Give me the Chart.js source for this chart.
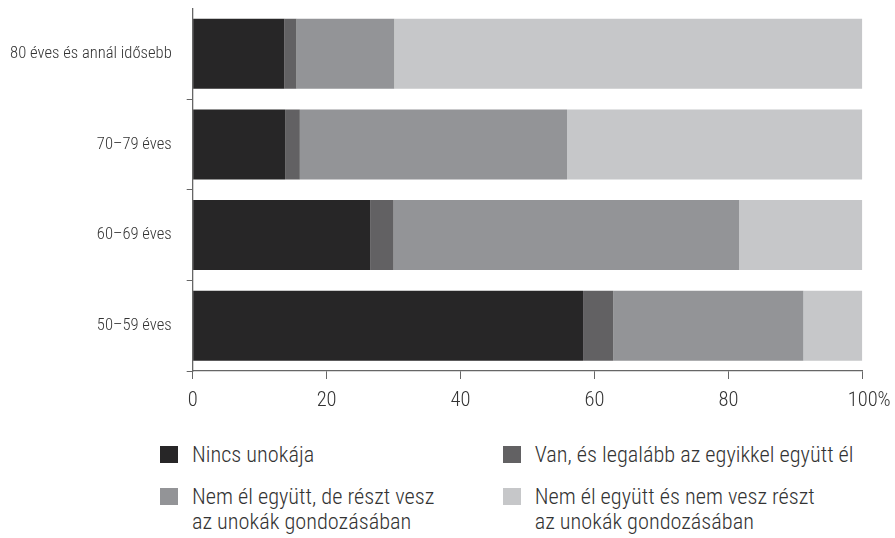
<!DOCTYPE html>
<html>
<head>
<meta charset="utf-8">
<script src="https://cdn.jsdelivr.net/npm/chart.js@4/dist/chart.umd.min.js"></script>
<style>
  html, body { margin: 0; padding: 0; background: #fff; }
  #wrap { position: relative; width: 895px; height: 538px; overflow: hidden; }
  #c { position: absolute; left: 0; top: 0; }
  .lg { position: absolute; display: flex; align-items: flex-start;
        font-size: 22.3px; line-height: 25px; color: #333; white-space: pre-line; }
  .lg .sw { width: 18px; height: 17px; margin-top: 4.3px; margin-right: 14px; flex: none; }
</style>
</head>
<body>
<div id="wrap">
  <canvas id="c" width="895" height="420"></canvas>
  <div id="legend"></div>
</div>
<script>
// ---- data ----
const categories = ['80 éves és annál idősebb', '70–79 éves', '60–69 éves', '50–59 éves'];
const seriesNames = [
  'Nincs unokája',
  'Van, és legalább az egyikkel együtt él',
  'Nem él együtt, de részt vesz\naz unokák gondozásában',
  'Nem él együtt és nem vesz részt\naz unokák gondozásában'
];
const nincsUnokaja   = [13.7, 13.8, 26.5, 58.3];
const egyuttEl       = [1.8, 2.2, 3.5, 4.5];
const resztVesz      = [14.6, 39.9, 51.6, 28.4];
const nemVeszReszt   = [69.9, 44.1, 18.4, 8.8];
const xTickValues = [0, 20, 40, 60, 80, 100];
const xTickLabels = ['0', '20', '40', '60', '80', '100%'];
const colors = ['#272627', '#626163', '#939497', '#c6c7c9'];

const seriesValues = [nincsUnokaja, egyuttEl, resztVesz, nemVeszReszt];

// pick an installed family that has a condensed face
function pickFont() {
  const c = document.createElement('canvas').getContext('2d');
  const s = 'Nincs unokája 80 éves és annál idősebb';
  for (const f of ['Roboto', 'Open Sans', 'DejaVu Sans']) {
    c.font = "300 20px '" + f + "'";
    const w1 = c.measureText(s).width;
    c.font = "300 condensed 20px '" + f + "'";
    const w2 = c.measureText(s).width;
    if (w2 < w1 * 0.92) return f;
  }
  return null;
}
const condFam = pickFont();
const FONT = condFam ? "'" + condFam + "', sans-serif" : "'Liberation Sans', sans-serif";
const WEIGHT = condFam ? '300 condensed' : 'normal';
const SCALE = condFam ? 1 : 0.85;

// the "%" sign hangs to the right of the 100 tick, as in the original
function tickLabel(i) {
  const t = xTickLabels[i];
  return t.endsWith('%') ? '   ' + t : t;
}

new Chart(document.getElementById('c'), {
  type: 'bar',
  data: {
    labels: categories,
    datasets: seriesValues.map((vals, i) => ({
      label: seriesNames[i],
      data: vals,
      backgroundColor: colors[i],
      borderWidth: 0,
      categoryPercentage: 0.772,
      barPercentage: 1
    }))
  },
  options: {
    indexAxis: 'y',
    responsive: false,
    animation: false,
    layout: { padding: { top: 8.5, right: 32.7, bottom: 0, left: 0 } },
    plugins: { legend: { display: false }, tooltip: { enabled: false } },
    scales: {
      x: {
        stacked: true,
        min: 0, max: 100,
        afterBuildTicks: (s) => { s.ticks = xTickValues.map(v => ({ value: v })); },
        afterFit: (s) => { s.height = 49; s.paddingLeft = 0; s.paddingRight = 0; },
        ticks: {
          callback: (v, i) => tickLabel(i),
          color: '#333',
          font: { family: FONT, size: 20.5 * SCALE, weight: WEIGHT },
          padding: 10,
          maxRotation: 0
        },
        grid: { drawOnChartArea: false, drawTicks: true, tickLength: 8, color: '#666', lineWidth: 1 },
        border: { color: '#666', width: 1.3 }
      },
      y: {
        stacked: true,
        afterFit: (s) => { s.width = 192.7; s.paddingTop = 0; s.paddingBottom = 0; },
        ticks: {
          color: '#333',
          font: { family: FONT, size: 16.6 * SCALE, weight: WEIGHT },
          padding: 15
        },
        grid: {
          offset: true,
          drawOnChartArea: false,
          drawTicks: true,
          tickLength: 6,
          color: (ctx) => ctx.index === 0 ? 'rgba(0,0,0,0)' : '#666',
          lineWidth: 1
        },
        border: { color: '#666', width: 1.3 }
      }
    }
  }
});

// ---- HTML legend (2 columns) ----
const legend = document.getElementById('legend');
const colX = [160, 502.7];
const rowY = [441.7, 483.7];
seriesNames.forEach((name, i) => {
  const d = document.createElement('div');
  d.className = 'lg';
  d.style.fontFamily = FONT;
  d.style.fontWeight = condFam ? '300' : 'normal';
  d.style.fontStretch = condFam ? 'condensed' : 'normal';
  if (!condFam) d.style.fontSize = (23 * SCALE) + 'px';
  d.style.left = colX[i % 2] + 'px';
  d.style.top = rowY[Math.floor(i / 2)] + 'px';
  const sw = document.createElement('span');
  sw.className = 'sw';
  sw.style.background = colors[i];
  const t = document.createElement('span');
  t.textContent = name;
  d.appendChild(sw);
  d.appendChild(t);
  legend.appendChild(d);
});
</script>
</body>
</html>
